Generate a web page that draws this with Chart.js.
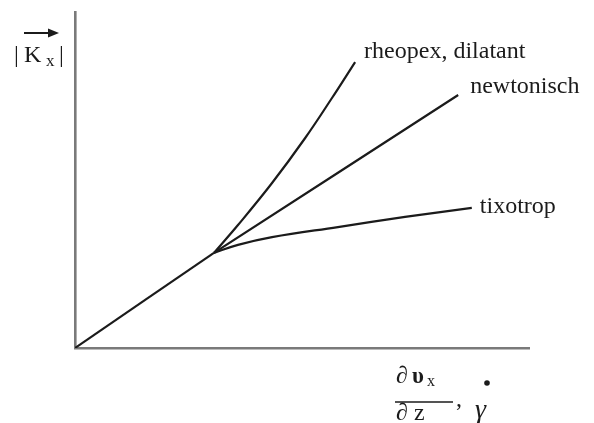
<!DOCTYPE html>
<html>
<head>
<meta charset="utf-8">
<script src="https://cdn.jsdelivr.net/npm/chart.js@4/dist/chart.umd.min.js"></script>
<style>
  html, body { margin: 0; padding: 0; background: #fff; }
  #wrap { width: 594px; height: 423px; }
</style>
</head>
<body>
<div id="wrap"><canvas id="flowChart"></canvas></div>
<script>
// ===============================
// DATA
// ===============================
const sharedX = [0, 3.06];
const sharedY = [0, 2.83];

const rheopexX = [3.06, 3.59, 4.34, 5.07, 5.66, 6.17];
const rheopexY = [2.83, 3.66, 4.91, 6.25, 7.44, 8.51];

const newtonX = [3.06, 8.44];
const newtonY = [2.83, 7.53];

const tixoX = [3.06, 3.59, 4.34, 5.79, 7.27, 8.74];
const tixoY = [2.83, 3.07, 3.30, 3.60, 3.90, 4.17];

const seriesNames = ['rheopex, dilatant', 'newtonisch', 'tixotrop'];

const SERIF = '"Liberation Serif", "DejaVu Serif", serif';
const INK = '#1b1b1b';

// ===============================
// HELPERS
// ===============================
function toPoints(xs, ys) {
  return xs.map((x, i) => ({ x, y: ys[i] }));
}

function curve(xs, ys, name) {
  return {
    label: name,
    data: toPoints(xs, ys),
    borderColor: INK,
    borderWidth: 2.2,
    pointRadius: 0,
    showLine: true,
    fill: false,
    tension: 0.4
  };
}

// ===============================
// LABEL PLUGIN
// ===============================
const curveLabels = {
  id: 'curveLabels',
  afterDatasetsDraw(chart, args, opts) {
    const { ctx, chartArea, scales } = chart;
    const { left, right, top, bottom } = chartArea;
    ctx.save();
    ctx.fillStyle = INK;
    ctx.strokeStyle = INK;
    ctx.textBaseline = 'alphabetic';

    // names at the end of each branch
    ctx.font = '24px ' + SERIF;
    opts.names.forEach((n) => {
      const ds = chart.data.datasets[n.dataset];
      const last = ds.data[ds.data.length - 1];
      const px = scales.x.getPixelForValue(last.x);
      const py = scales.y.getPixelForValue(last.y);
      ctx.fillText(ds.label, px + n.dx, py + n.dy);
    });

    // y axis title |K_x| with vector arrow
    const yl = left - 61;
    const yb = top + 50;
    ctx.font = '24px ' + SERIF;
    ctx.fillText('|', yl, yb);
    ctx.fillText('K', yl + 10, yb);
    ctx.font = '17px ' + SERIF;
    ctx.fillText('x', yl + 32, yb + 4);
    ctx.font = '24px ' + SERIF;
    ctx.fillText('|', yl + 45, yb);
    ctx.lineWidth = 2;
    ctx.beginPath();
    ctx.moveTo(yl + 10, top + 21);
    ctx.lineTo(yl + 40, top + 21);
    ctx.stroke();
    ctx.beginPath();
    ctx.moveTo(yl + 45, top + 21);
    ctx.lineTo(yl + 34, top + 16.5);
    ctx.lineTo(yl + 34, top + 25.5);
    ctx.closePath();
    ctx.fill();

    // x axis title  dυx/dz , γ with dot
    const xl = right - 134;
    ctx.font = '24px ' + SERIF;
    ctx.fillText('\u2202', xl + 1, bottom + 35);
    ctx.font = 'bold 23px ' + SERIF;
    ctx.fillText('\u03C5', xl + 17, bottom + 35);
    ctx.font = '16px ' + SERIF;
    ctx.fillText('x', xl + 32, bottom + 38);
    ctx.lineWidth = 1.6;
    ctx.beginPath();
    ctx.moveTo(xl, bottom + 54);
    ctx.lineTo(xl + 58, bottom + 54);
    ctx.stroke();
    ctx.font = '24px ' + SERIF;
    ctx.fillText('\u2202', xl + 1, bottom + 72);
    ctx.fillText('z', xl + 19, bottom + 72);
    ctx.fillText(',', xl + 61, bottom + 58);
    ctx.font = 'italic 28px ' + SERIF;
    ctx.fillText('\u03B3', xl + 80, bottom + 70);
    ctx.beginPath();
    ctx.arc(xl + 92, bottom + 35, 2.8, 0, Math.PI * 2);
    ctx.fill();

    ctx.restore();
  }
};

// ===============================
// CHART
// ===============================
new Chart(document.getElementById('flowChart'), {
  type: 'scatter',
  data: {
    datasets: [
      curve(sharedX, sharedY, ''),
      curve(rheopexX, rheopexY, seriesNames[0]),
      curve(newtonX, newtonY, seriesNames[1]),
      curve(tixoX, tixoY, seriesNames[2])
    ]
  },
  options: {
    responsive: true,
    maintainAspectRatio: false,
    animation: false,
    layout: { padding: { left: 75, top: 12, right: 65, bottom: 75 } },
    scales: {
      x: {
        type: 'linear',
        min: 0,
        max: 10,
        ticks: { display: false },
        grid: { display: false, drawTicks: false },
        border: { display: true, color: '#7a7a7a', width: 2.6 }
      },
      y: {
        type: 'linear',
        min: 0,
        max: 10,
        ticks: { display: false },
        grid: { display: false, drawTicks: false },
        border: { display: true, color: '#7a7a7a', width: 2.6 }
      }
    },
    plugins: {
      legend: { display: false },
      tooltip: { enabled: false },
      curveLabels: {
        names: [
          { dataset: 1, dx: 9, dy: -4 },
          { dataset: 2, dx: 12, dy: -2 },
          { dataset: 3, dx: 8, dy: 5 }
        ]
      }
    }
  },
  plugins: [curveLabels]
});
</script>
</body>
</html>
